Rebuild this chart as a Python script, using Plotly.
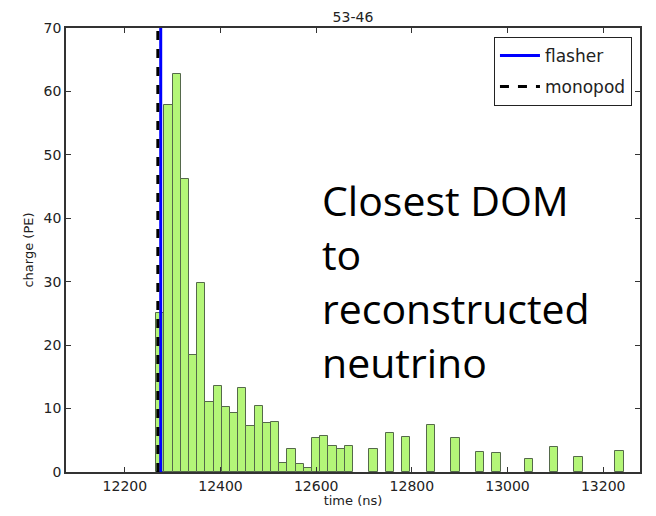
import plotly.graph_objects as go

# histogram binning (70 bins over the time window)
bin_start = 12077
bin_width = 1200 / 70

# non-empty bins: bin index and summed charge (PE)
bin_index = [11, 12, 13, 14, 15, 16, 17, 18, 19, 20, 21, 22, 23, 24, 25, 26,
             27, 28, 29, 30, 31, 32, 33, 34, 37, 39, 41, 44, 47, 50, 52, 56,
             59, 62, 67]
charge = [25.1, 57.8, 62.7, 46.2, 18.4, 29.8, 11.0, 13.5, 10.3, 9.3, 13.2,
          7.3, 10.4, 7.7, 7.9, 1.4, 3.7, 1.2, 0.7, 5.3, 5.6, 4.1, 3.7, 4.1,
          3.6, 6.2, 5.5, 7.4, 5.3, 3.1, 3.0, 2.0, 3.9, 2.4, 3.3]

flasher_time = 12275
monopod_time = 12269

x_ticks = [12200, 12400, 12600, 12800, 13000, 13200]
y_ticks = [0, 10, 20, 30, 40, 50, 60, 70]

bin_centers = [bin_start + (k + 0.5) * bin_width for k in bin_index]

fig = go.Figure()
fig.add_trace(go.Bar(
    x=bin_centers, y=charge, width=bin_width,
    marker=dict(color="rgb(180,246,120)",
                line=dict(color="rgb(85,105,75)", width=1)),
    showlegend=False,
))
fig.add_trace(go.Scatter(
    x=[flasher_time, flasher_time], y=[0, 70], mode="lines",
    line=dict(color="#0000ff", width=3), name="flasher", legendgroup="a",
))
fig.add_trace(go.Scatter(
    x=[monopod_time, monopod_time], y=[0, 70], mode="lines",
    line=dict(color="black", width=3, dash="dash"), name="monopod", legendgroup="b",
))

# big slide text
lines = ["Closest DOM", "to", "reconstructed", "neutrino"]
baselines = [39.9, 31.4, 22.8, 14.4]
for txt, yb in zip(lines, baselines):
    fig.add_annotation(
        x=0.4425, xref="paper", y=yb, yref="y", text=txt,
        xanchor="left", yanchor="bottom", showarrow=False,
        font=dict(family="Open Sans", size=41, color="black"), yshift=-11,
    )

axis_common = dict(
    showline=True, linecolor="#333", linewidth=1.5, mirror="ticks",
    ticks="inside", ticklen=5, tickcolor="#333", showgrid=False,
    zeroline=False, automargin=False,
    tickfont=dict(family="DejaVu Sans", size=14, color="#222"),
)

# page body adds an 8px offset, so the figure is sized to fit inside the window
fig.update_layout(
    width=640, height=500,
    margin=dict(l=58, r=8, t=20, b=36),
    plot_bgcolor="white", paper_bgcolor="white",
    bargap=0,
    title=dict(text="53-46", x=0.539, xanchor="center", y=0.981, yanchor="middle",
               pad=dict(t=0, b=0), automargin=False,
               font=dict(family="DejaVu Sans", size=14, color="#222")),
    xaxis=dict(range=[bin_start, bin_start + 1200], tickvals=x_ticks,
               ticktext=[str(t) for t in x_ticks],
               title=dict(text="time (ns)", font=dict(family="DejaVu Sans", size=13, color="#222"), standoff=4),
               **axis_common),
    yaxis=dict(range=[0, 70], tickvals=y_ticks,
               title=dict(text="charge (PE)", font=dict(family="DejaVu Sans", size=13, color="#222"), standoff=7),
               **axis_common),
    legend=dict(x=0.986, y=0.98, xanchor="right", yanchor="top",
                bgcolor="white", bordercolor="#222", borderwidth=1,
                itemwidth=40, tracegroupgap=6,
                font=dict(family="DejaVu Sans", size=17, color="#222")),
)

fig.write_html("out.html")
